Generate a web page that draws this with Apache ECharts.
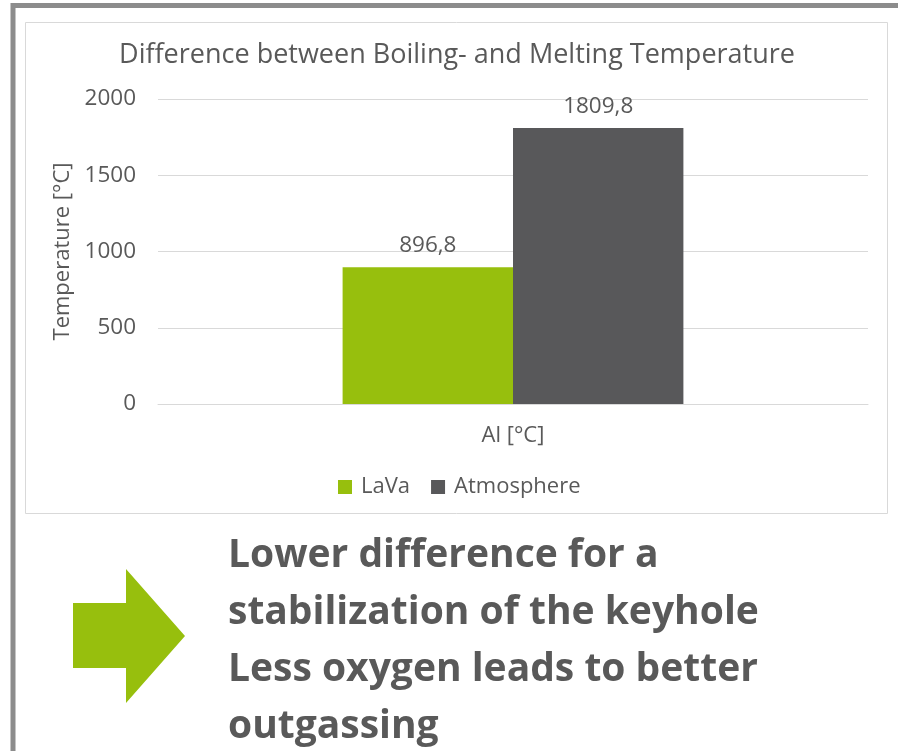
<!DOCTYPE html>
<html>
<head>
<meta charset="utf-8">
<script src="https://cdn.jsdelivr.net/npm/echarts@6/dist/echarts.min.js"></script>
<style>html,body{margin:0;padding:0;background:#fff;}#c{width:898px;height:751px;}</style>
</head>
<body>
<div id="c"></div>
<script>
const categories = ['Al [°C]'];
const seriesNames = ['LaVa', 'Atmosphere'];
const lavaValues = [896.8];
const atmosphereValues = [1809.8];
const yTicks = [0, 500, 1000, 1500, 2000];
const titleText = 'Difference between Boiling- and Melting Temperature';
const yAxisName = 'Temperature [°C]';
const noteLines = ['Lower difference for a', 'stabilization of the keyhole', 'Less oxygen leads to better', 'outgassing'];

const FONT = 'Open Sans';
const TXT = '#595959';
const fmt = v => String(v).replace('.', ',');

const chart = echarts.init(document.getElementById('c'), null, {renderer: 'canvas'});
chart.setOption({
  backgroundColor: '#ffffff',
  animation: false,
  textStyle: {fontFamily: FONT, color: TXT},
  title: {
    text: titleText, left: 452, textAlign: 'center', top: 37,
    textStyle: {fontFamily: FONT, fontSize: 27, fontWeight: 'normal', color: TXT}
  },
  legend: {
    data: seriesNames, left: 333, top: 471,
    itemWidth: 14, itemHeight: 14, itemGap: 21, icon: 'rect',
    textStyle: {fontFamily: FONT, fontSize: 22, color: TXT, padding: [0, 0, 0, 4]}
  },
  grid: {left: 158, right: 30, top: 99, bottom: 347, containLabel: false},
  xAxis: {
    type: 'category', data: categories,
    axisLine: {show: true, lineStyle: {color: '#d9d9d9'}},
    axisTick: {show: false},
    axisLabel: {fontFamily: FONT, fontSize: 22, color: TXT, margin: 21}
  },
  yAxis: {
    type: 'value', min: yTicks[0], max: yTicks[yTicks.length - 1], interval: 500,
    name: yAxisName, nameLocation: 'middle', nameGap: 84, nameRotate: 90,
    nameTextStyle: {fontFamily: FONT, fontSize: 22, color: TXT},
    axisLine: {show: false}, axisTick: {show: false},
    axisLabel: {fontFamily: FONT, fontSize: 22.5, color: TXT, margin: 22, formatter: v => String(v)},
    splitLine: {lineStyle: {color: '#d9d9d9', width: 1}}
  },
  series: [
    {name: seriesNames[0], type: 'bar', data: lavaValues, barGap: '0%', barCategoryGap: '52%',
     itemStyle: {color: '#97BF0D'},
     label: {show: true, position: 'top', distance: 10, formatter: p => fmt(p.value), fontFamily: FONT, fontSize: 22.5, color: TXT}},
    {name: seriesNames[1], type: 'bar', data: atmosphereValues, barGap: '0%', barCategoryGap: '52%',
     itemStyle: {color: '#58585A'},
     label: {show: true, position: 'top', distance: 10, formatter: p => fmt(p.value), fontFamily: FONT, fontSize: 22.5, color: TXT}}
  ],
  graphic: [
    {type: 'rect', shape: {x: 13, y: 5.5, width: 1200, height: 1200}, style: {fill: 'none', stroke: '#8c8c8c', lineWidth: 5}, z: 10},
    {type: 'rect', shape: {x: 25.5, y: 22.5, width: 862, height: 491}, style: {fill: 'none', stroke: '#d9d9d9', lineWidth: 1}, z: -1},
    {type: 'polygon', shape: {points: [[73,603],[126,603],[126,569],[185,636],[126,703],[126,668],[73,668]]}, style: {fill: '#97BF0D'}},
    {type: 'text', x: 228, y: 527, style: {text: noteLines.join('\n'), fontFamily: FONT, fontWeight: 'bold', fontSize: 39, lineHeight: 57, fill: TXT}}
  ]
});
</script>
</body>
</html>
